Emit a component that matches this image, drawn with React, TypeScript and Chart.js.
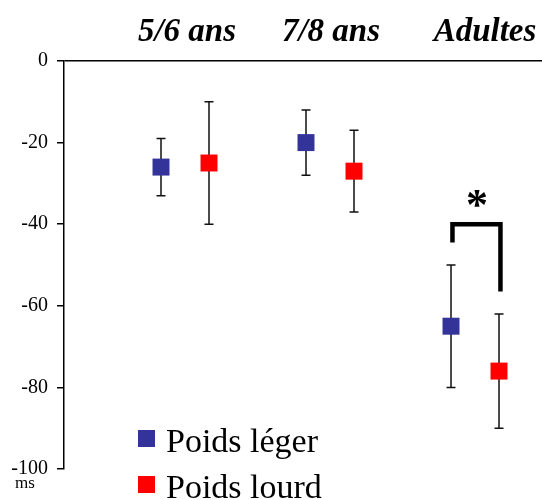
import React, { useEffect, useRef } from "react";
import { Chart, registerables } from "chart.js";

Chart.register(...registerables);

// ---- Data ----
const categories = ["5/6 ans", "7/8 ans", "Adultes"];
const seriesNames = ["Poids léger", "Poids lourd"];
const legerMean = [-26, -20, -65];
const legerHigh = [-19, -12, -50];
const legerLow = [-33, -28, -80];
const lourdMean = [-25, -27, -76];
const lourdHigh = [-10, -17, -62];
const lourdLow = [-40, -37, -90];
const yTicks = [0, -20, -40, -60, -80, -100];
const unitLabel = "ms";
// significance bracket (Adultes): left leg bottom, top, top, right leg bottom
const bracketY = [-44.5, -40, -40, -56.5];
const bracketGroup = 2;
const sigMark = "*";

const BLUE = "#333399";
const RED = "#ff0000";
const OFFSET = 0.1655;

const blueX = categories.map((_, i) => i - OFFSET);
const redX = categories.map((_, i) => i + OFFSET);

const overlayPlugin = {
  id: "overlay",
  beforeDatasetsDraw(chart: any) {
    const { ctx } = chart;
    const xs = chart.scales.x;
    const ys = chart.scales.y;
    const sets = [
      { x: blueX, lo: legerLow, hi: legerHigh },
      { x: redX, lo: lourdLow, hi: lourdHigh },
    ];
    ctx.save();
    ctx.strokeStyle = "#111";
    ctx.lineWidth = 1.5;
    sets.forEach((s) => {
      s.x.forEach((xv, i) => {
        const px = xs.getPixelForValue(xv);
        const pLo = ys.getPixelForValue(s.lo[i]);
        const pHi = ys.getPixelForValue(s.hi[i]);
        ctx.beginPath();
        ctx.moveTo(px, pLo);
        ctx.lineTo(px, pHi);
        ctx.moveTo(px - 4.5, pLo);
        ctx.lineTo(px + 4.5, pLo);
        ctx.moveTo(px - 4.5, pHi);
        ctx.lineTo(px + 4.5, pHi);
        ctx.stroke();
      });
    });
    ctx.restore();
  },
  afterDraw(chart: any) {
    const { ctx } = chart;
    const xs = chart.scales.x;
    const ys = chart.scales.y;
    ctx.save();
    ctx.fillStyle = "#000";
    // group labels
    ctx.font = "italic bold 33px 'Liberation Serif'";
    ctx.textAlign = "center";
    ctx.textBaseline = "alphabetic";
    const nudge = [2, 1, 10];
    categories.forEach((c, i) => {
      ctx.fillText(c, xs.getPixelForValue(i) + nudge[i], 41);
    });
    // unit
    ctx.font = "17px 'Liberation Serif'";
    ctx.textAlign = "left";
    ctx.fillText(unitLabel, 15, 488);
    // asterisk
    const lx = xs.getPixelForValue(bracketGroup - OFFSET);
    const rx = xs.getPixelForValue(bracketGroup + OFFSET);
    ctx.font = "bold 44px 'Liberation Serif'";
    ctx.textAlign = "center";
    ctx.fillText(sigMark, (lx + rx) / 2 + 2, ys.getPixelForValue(bracketY[1]) - 5);
    // legend
    const colors = [BLUE, RED];
    ctx.font = "34px 'Liberation Serif'";
    ctx.textAlign = "left";
    seriesNames.forEach((n, i) => {
      const top = 430 + i * 46;
      ctx.fillStyle = colors[i];
      ctx.fillRect(138, top, 17, 17);
      ctx.fillStyle = "#000";
      ctx.fillText(n, 166, top + 22);
    });
    ctx.restore();
  },
};

export default function App() {
  const ref = useRef<HTMLCanvasElement>(null);
  useEffect(() => {
    document.body.style.margin = "0";
    const canvas = ref.current!;
    const chart = new Chart(canvas, {
      type: "scatter",
      data: {
        datasets: [
          {
            label: seriesNames[0],
            data: categories.map((_, i) => ({ x: blueX[i], y: legerMean[i] })),
            backgroundColor: BLUE,
            borderColor: BLUE,
            pointStyle: "rect",
            pointRadius: 12,
            pointBorderWidth: 0,
            pointHoverRadius: 12,
          },
          {
            label: seriesNames[1],
            data: categories.map((_, i) => ({ x: redX[i], y: lourdMean[i] })),
            backgroundColor: RED,
            borderColor: RED,
            pointStyle: "rect",
            pointRadius: 12,
            pointBorderWidth: 0,
            pointHoverRadius: 12,
          },
          {
            type: "line",
            label: "bracket",
            data: [
              { x: bracketGroup - OFFSET + 0.01, y: bracketY[0] },
              { x: bracketGroup - OFFSET + 0.01, y: bracketY[1] },
              { x: bracketGroup + OFFSET + 0.01, y: bracketY[2] },
              { x: bracketGroup + OFFSET + 0.01, y: bracketY[3] },
            ],
            borderColor: "#000",
            borderWidth: 4.5,
            pointRadius: 0,
            tension: 0,
            borderCapStyle: "butt",
            borderJoinStyle: "miter",
            fill: false,
          } as any,
        ],
      },
      options: {
        animation: false,
        responsive: false,
        layout: { autoPadding: false, padding: { top: 61, bottom: 31, left: 0, right: 0 } },
        plugins: { legend: { display: false }, tooltip: { enabled: false } },
        scales: {
          x: {
            type: "linear",
            display: false,
            min: -0.8345,
            max: 2.462,
          },
          y: {
            type: "linear",
            min: -100,
            max: 0,
            afterBuildTicks: (s: any) => {
              s.ticks = yTicks.map((v) => ({ value: v }));
            },
            afterFit: (s: any) => {
              s.width = 64;
            },
            ticks: {
              color: "#000",
              padding: 9,
              font: { family: "'Liberation Serif'", size: 20 },
            },
            grid: {
              drawOnChartArea: true,
              color: (c: any) => (c.tick && c.tick.value === 0 ? "#000" : "rgba(0,0,0,0)"),
              tickColor: "#000",
              tickLength: 7,
              lineWidth: 1.5,
            },
            border: { display: true, color: "#000", width: 1.5 },
          },
        },
      },
      plugins: [overlayPlugin],
    });
    return () => chart.destroy();
  }, []);
  return (
    <div style={{ width: 542, height: 500 }}>
      <canvas ref={ref} width={542} height={500} />
    </div>
  );
}
